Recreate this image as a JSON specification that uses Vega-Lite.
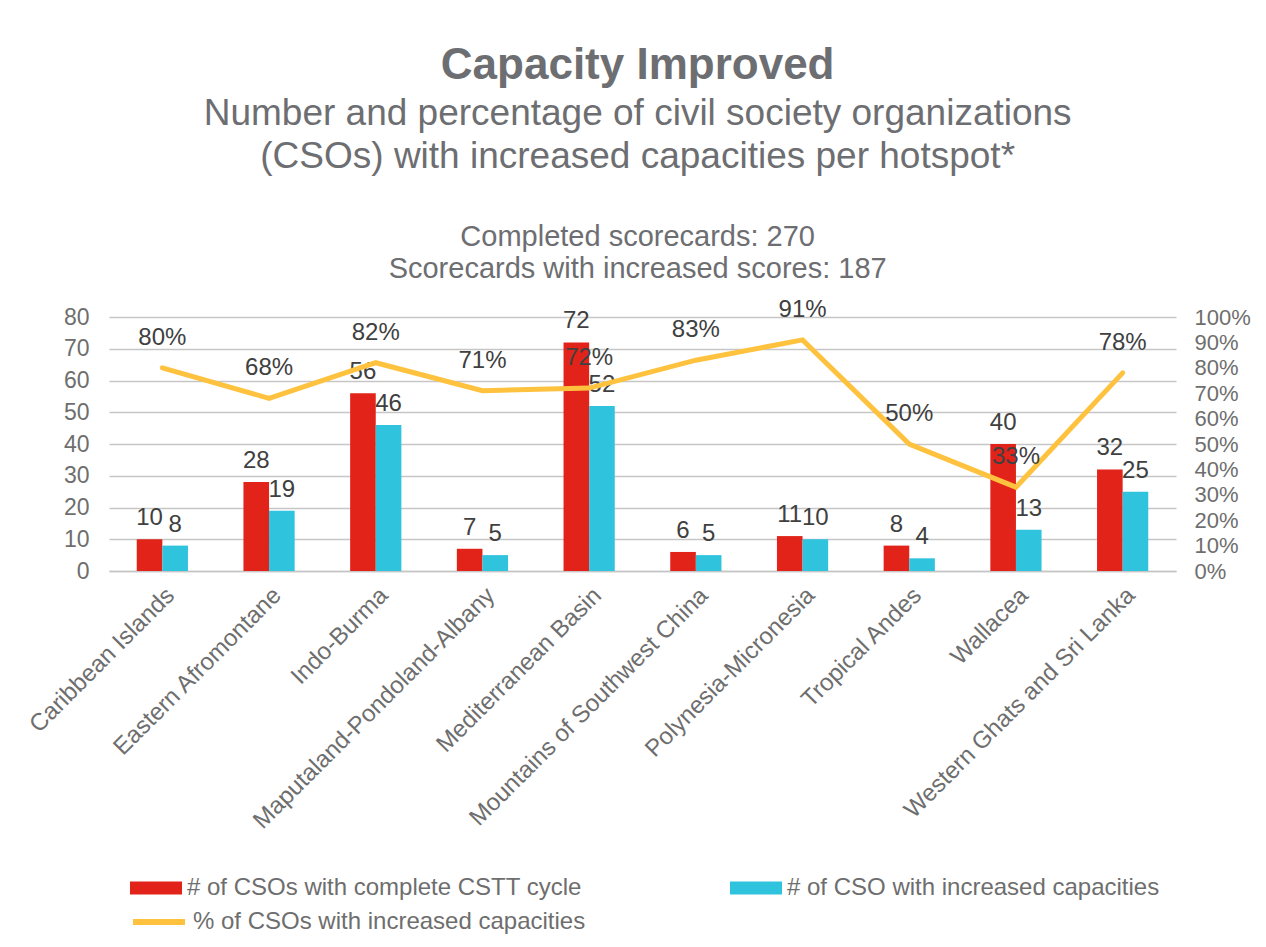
{
  "$schema": "https://vega.github.io/schema/vega-lite/v6.json",
  "padding": {"left": 25, "top": 43, "right": 5, "bottom": 5},
  "background": "white",
  "datasets": {
    "counts": [
      {"hotspot": "Caribbean Islands", "series": "# of CSOs with complete CSTT cycle", "value": 10},
      {"hotspot": "Caribbean Islands", "series": "# of CSO with increased capacities", "value": 8},
      {"hotspot": "Eastern Afromontane", "series": "# of CSOs with complete CSTT cycle", "value": 28},
      {"hotspot": "Eastern Afromontane", "series": "# of CSO with increased capacities", "value": 19},
      {"hotspot": "Indo-Burma", "series": "# of CSOs with complete CSTT cycle", "value": 56},
      {"hotspot": "Indo-Burma", "series": "# of CSO with increased capacities", "value": 46},
      {"hotspot": "Maputaland-Pondoland-Albany", "series": "# of CSOs with complete CSTT cycle", "value": 7},
      {"hotspot": "Maputaland-Pondoland-Albany", "series": "# of CSO with increased capacities", "value": 5},
      {"hotspot": "Mediterranean Basin", "series": "# of CSOs with complete CSTT cycle", "value": 72},
      {"hotspot": "Mediterranean Basin", "series": "# of CSO with increased capacities", "value": 52},
      {"hotspot": "Mountains of Southwest China", "series": "# of CSOs with complete CSTT cycle", "value": 6},
      {"hotspot": "Mountains of Southwest China", "series": "# of CSO with increased capacities", "value": 5},
      {"hotspot": "Polynesia-Micronesia", "series": "# of CSOs with complete CSTT cycle", "value": 11},
      {"hotspot": "Polynesia-Micronesia", "series": "# of CSO with increased capacities", "value": 10},
      {"hotspot": "Tropical Andes", "series": "# of CSOs with complete CSTT cycle", "value": 8},
      {"hotspot": "Tropical Andes", "series": "# of CSO with increased capacities", "value": 4},
      {"hotspot": "Wallacea", "series": "# of CSOs with complete CSTT cycle", "value": 40},
      {"hotspot": "Wallacea", "series": "# of CSO with increased capacities", "value": 13},
      {"hotspot": "Western Ghats and Sri Lanka", "series": "# of CSOs with complete CSTT cycle", "value": 32},
      {"hotspot": "Western Ghats and Sri Lanka", "series": "# of CSO with increased capacities", "value": 25}
    ],
    "pcts": [
      {"hotspot": "Caribbean Islands", "series": "% of CSOs with increased capacities", "pct": 0.80},
      {"hotspot": "Eastern Afromontane", "series": "% of CSOs with increased capacities", "pct": 0.68},
      {"hotspot": "Indo-Burma", "series": "% of CSOs with increased capacities", "pct": 0.82},
      {"hotspot": "Maputaland-Pondoland-Albany", "series": "% of CSOs with increased capacities", "pct": 0.71},
      {"hotspot": "Mediterranean Basin", "series": "% of CSOs with increased capacities", "pct": 0.72},
      {"hotspot": "Mountains of Southwest China", "series": "% of CSOs with increased capacities", "pct": 0.83},
      {"hotspot": "Polynesia-Micronesia", "series": "% of CSOs with increased capacities", "pct": 0.91},
      {"hotspot": "Tropical Andes", "series": "% of CSOs with increased capacities", "pct": 0.50},
      {"hotspot": "Wallacea", "series": "% of CSOs with increased capacities", "pct": 0.33},
      {"hotspot": "Western Ghats and Sri Lanka", "series": "% of CSOs with increased capacities", "pct": 0.78}
    ]
  },
  "title": {
    "text": "Capacity Improved",
    "subtitle": ["Number and percentage of civil society organizations", "(CSOs) with increased capacities per hotspot*"],
    "anchor": "middle",
    "frame": "bounds",
    "font": "Liberation Sans",
    "fontSize": 44,
    "fontWeight": "bold",
    "color": "#6D6E71",
    "subtitleFont": "Liberation Sans",
    "subtitleFontSize": 37,
    "subtitleColor": "#6D6E71",
    "subtitleLineHeight": 43,
    "subtitlePadding": 8,
    "offset": 48
  },
  "vconcat": [
    {
      "width": 1067,
      "height": 254,
      "title": {
        "text": ["Completed scorecards: 270", "Scorecards with increased scores: 187"],
        "anchor": "middle",
        "frame": "bounds",
        "font": "Liberation Sans",
        "fontSize": 29,
        "fontWeight": "normal",
        "lineHeight": 32,
        "color": "#6D6E71",
        "offset": 14
      },
      "layer": [
        {
          "layer": [
            {
              "data": {"name": "counts"},
              "mark": {"type": "bar"},
              "encoding": {
                "x": {"field": "hotspot", "type": "nominal", "sort": null,
                      "scale": {"paddingInner": 0.52, "paddingOuter": 0.26},
                      "axis": {"title": null, "labelAngle": -45, "labelFontSize": 24, "labelColor": "#6E6E6E", "labelFont": "Liberation Sans",
                               "ticks": false, "domainColor": "#C6C6C6", "domainWidth": 1.5, "labelPadding": 12, "labelLimit": 0, "labelOverlap": false}},
                "xOffset": {"field": "series", "type": "nominal", "sort": ["# of CSOs with complete CSTT cycle", "# of CSO with increased capacities"]},
                "y": {"field": "value", "type": "quantitative",
                      "scale": {"domain": [0, 80], "nice": false},
                      "axis": {"title": null, "values": [0, 10, 20, 30, 40, 50, 60, 70, 80], "tickCount": 9, "labelOverlap": false, "grid": true, "gridColor": "#C6C6C6", "gridWidth": 1.5,
                               "domain": false, "ticks": false, "labelFontSize": 23, "labelColor": "#6E6E6E", "labelFont": "Liberation Sans", "labelPadding": 20}},
                "fill": {"field": "series", "type": "nominal",
                          "scale": {"domain": ["# of CSOs with complete CSTT cycle", "# of CSO with increased capacities"],
                                    "range": ["#E2231A", "#2FC3DE"]},
                          "legend": {
                            "title": null, "orient": "none", "legendX": 21, "legendY": 545,
                            "columns": 2, "columnPadding": 148,
                            "labelFontSize": 24, "labelFont": "Liberation Sans", "labelColor": "#6E6E6E", "labelOffset": 5, "labelLimit": 0,
                            "symbolType": "M-1,-0.25H1V0.25H-1Z", "symbolSize": 2704, "symbolStrokeWidth": 0, "padding": 0
                          }}
              }
            },
            {
              "data": {"name": "counts"},
              "mark": {"type": "text", "font": "Liberation Sans", "fontSize": 24, "color": "#404040", "baseline": "alphabetic", "dy": -14},
              "encoding": {
                "x": {"field": "hotspot", "type": "nominal", "sort": null},
                "xOffset": {"field": "series", "type": "nominal", "sort": ["# of CSOs with complete CSTT cycle", "# of CSO with increased capacities"]},
                "y": {"field": "value", "type": "quantitative",
                      "axis": {"title": null, "values": [0, 10, 20, 30, 40, 50, 60, 70, 80], "tickCount": 9, "labelOverlap": false, "grid": true, "gridColor": "#C6C6C6", "gridWidth": 1.5,
                               "domain": false, "ticks": false, "labelFontSize": 23, "labelColor": "#6E6E6E", "labelFont": "Liberation Sans", "labelPadding": 20}},
                "text": {"field": "value", "type": "quantitative"}
              }
            }
          ]
        },
        {
          "layer": [
            {
              "data": {"name": "pcts"},
              "mark": {"type": "line", "strokeWidth": 5, "strokeCap": "round", "strokeJoin": "miter"},
              "encoding": {
                "x": {"field": "hotspot", "type": "nominal", "sort": null},
                "y": {"field": "pct", "type": "quantitative",
                      "scale": {"domain": [0, 1], "nice": false},
                      "axis": {"title": null, "orient": "right", "format": ".0%", "values": [0, 0.1, 0.2, 0.3, 0.4, 0.5, 0.6, 0.7, 0.8, 0.9, 1], "tickCount": 11, "labelOverlap": false,
                               "grid": false, "domain": false, "ticks": false, "labelFontSize": 22, "labelColor": "#6E6E6E", "labelFont": "Liberation Sans", "labelPadding": 18}},
                "stroke": {"field": "series", "type": "nominal",
                           "scale": {"domain": ["% of CSOs with increased capacities"], "range": ["#FEC23F"]},
                           "legend": {
                             "title": null, "orient": "none", "legendX": 21, "legendY": 576,
                             "labelFontSize": 24, "labelFont": "Liberation Sans", "labelColor": "#6E6E6E", "labelOffset": 5, "labelLimit": 0,
                             "symbolType": "stroke", "symbolSize": 2704, "symbolStrokeWidth": 6, "padding": 0
                           }}
              }
            },
            {
              "data": {"name": "pcts"},
              "mark": {"type": "text", "font": "Liberation Sans", "fontSize": 24, "color": "#404040", "baseline": "alphabetic", "dy": -23},
              "encoding": {
                "x": {"field": "hotspot", "type": "nominal", "sort": null},
                "y": {"field": "pct", "type": "quantitative",
                      "axis": {"title": null, "orient": "right", "format": ".0%", "values": [0, 0.1, 0.2, 0.3, 0.4, 0.5, 0.6, 0.7, 0.8, 0.9, 1], "tickCount": 11, "labelOverlap": false,
                               "grid": false, "domain": false, "ticks": false, "labelFontSize": 22, "labelColor": "#6E6E6E", "labelFont": "Liberation Sans", "labelPadding": 18}},
                "text": {"field": "pct", "type": "quantitative", "format": ".0%"}
              }
            }
          ]
        }
      ],
      "resolve": {"scale": {"y": "independent"}}
    }
  ],
  "config": {
    "view": {"stroke": null},
    "font": "Liberation Sans"
  }
}
